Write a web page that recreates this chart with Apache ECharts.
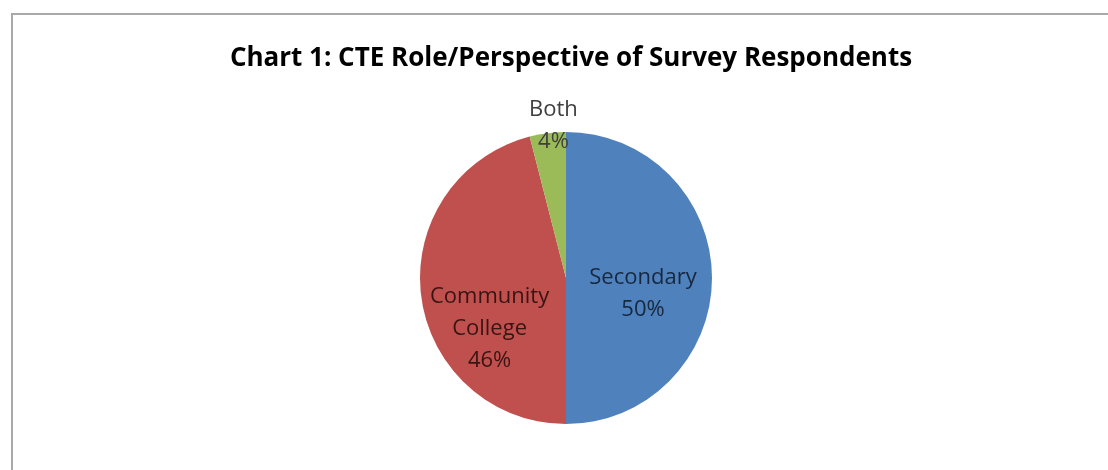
<!DOCTYPE html>
<html>
<head>
<meta charset="utf-8">
<script src="https://cdn.jsdelivr.net/npm/echarts@6/dist/echarts.min.js"></script>
<style>
  html, body { margin: 0; padding: 0; background: #fff; overflow: hidden; }
  #frame { position: absolute; left: 11px; top: 13px; width: 1200px; height: 600px; border: 2px solid #a9a9a9; box-sizing: border-box; }
  #chart { position: absolute; left: 0; top: 0; width: 1108px; height: 470px; }
</style>
</head>
<body>
<div id="frame"></div>
<div id="chart"></div>
<script>
// survey role split
const categories = ['Secondary', 'Community\nCollege', 'Both']
const shares = [50, 46, 4]
const colors = ['#4f81bd', '#c0504d', '#9bbb59']
const labelColors = ['#17283f', '#3a1413', '#404040']

const chart = echarts.init(document.getElementById('chart'))

chart.setOption({
  animation: false,
  title: {
    text: 'Chart 1: CTE Role/Perspective of Survey Respondents',
    left: 566,
    top: 41,
    textAlign: 'center',
    textStyle: {
      fontFamily: 'Open Sans',
      fontWeight: 'bold',
      fontSize: 26,
      color: '#000'
    }
  },
  series: [{
    type: 'pie',
    center: [566, 278],
    radius: 146,
    startAngle: 90,
    clockwise: true,
    label: {
      position: 'inside',
      fontFamily: 'Open Sans',
      fontSize: 22,
      lineHeight: 32,
      formatter: p => p.name + '\n' + p.value + '%'
    },
    labelLine: { show: false },
    labelLayout: function (params) {
      // nudge labels to where the original sits them
      const dy = [16, 41, -77]
      const dx = [1, -1, -3]
      return { dx: dx[params.dataIndex], dy: dy[params.dataIndex] }
    },
    data: categories.map((name, i) => ({
      name: name,
      value: shares[i],
      itemStyle: { color: colors[i] },
      label: { color: labelColors[i] }
    }))
  }]
})
</script>
</body>
</html>
